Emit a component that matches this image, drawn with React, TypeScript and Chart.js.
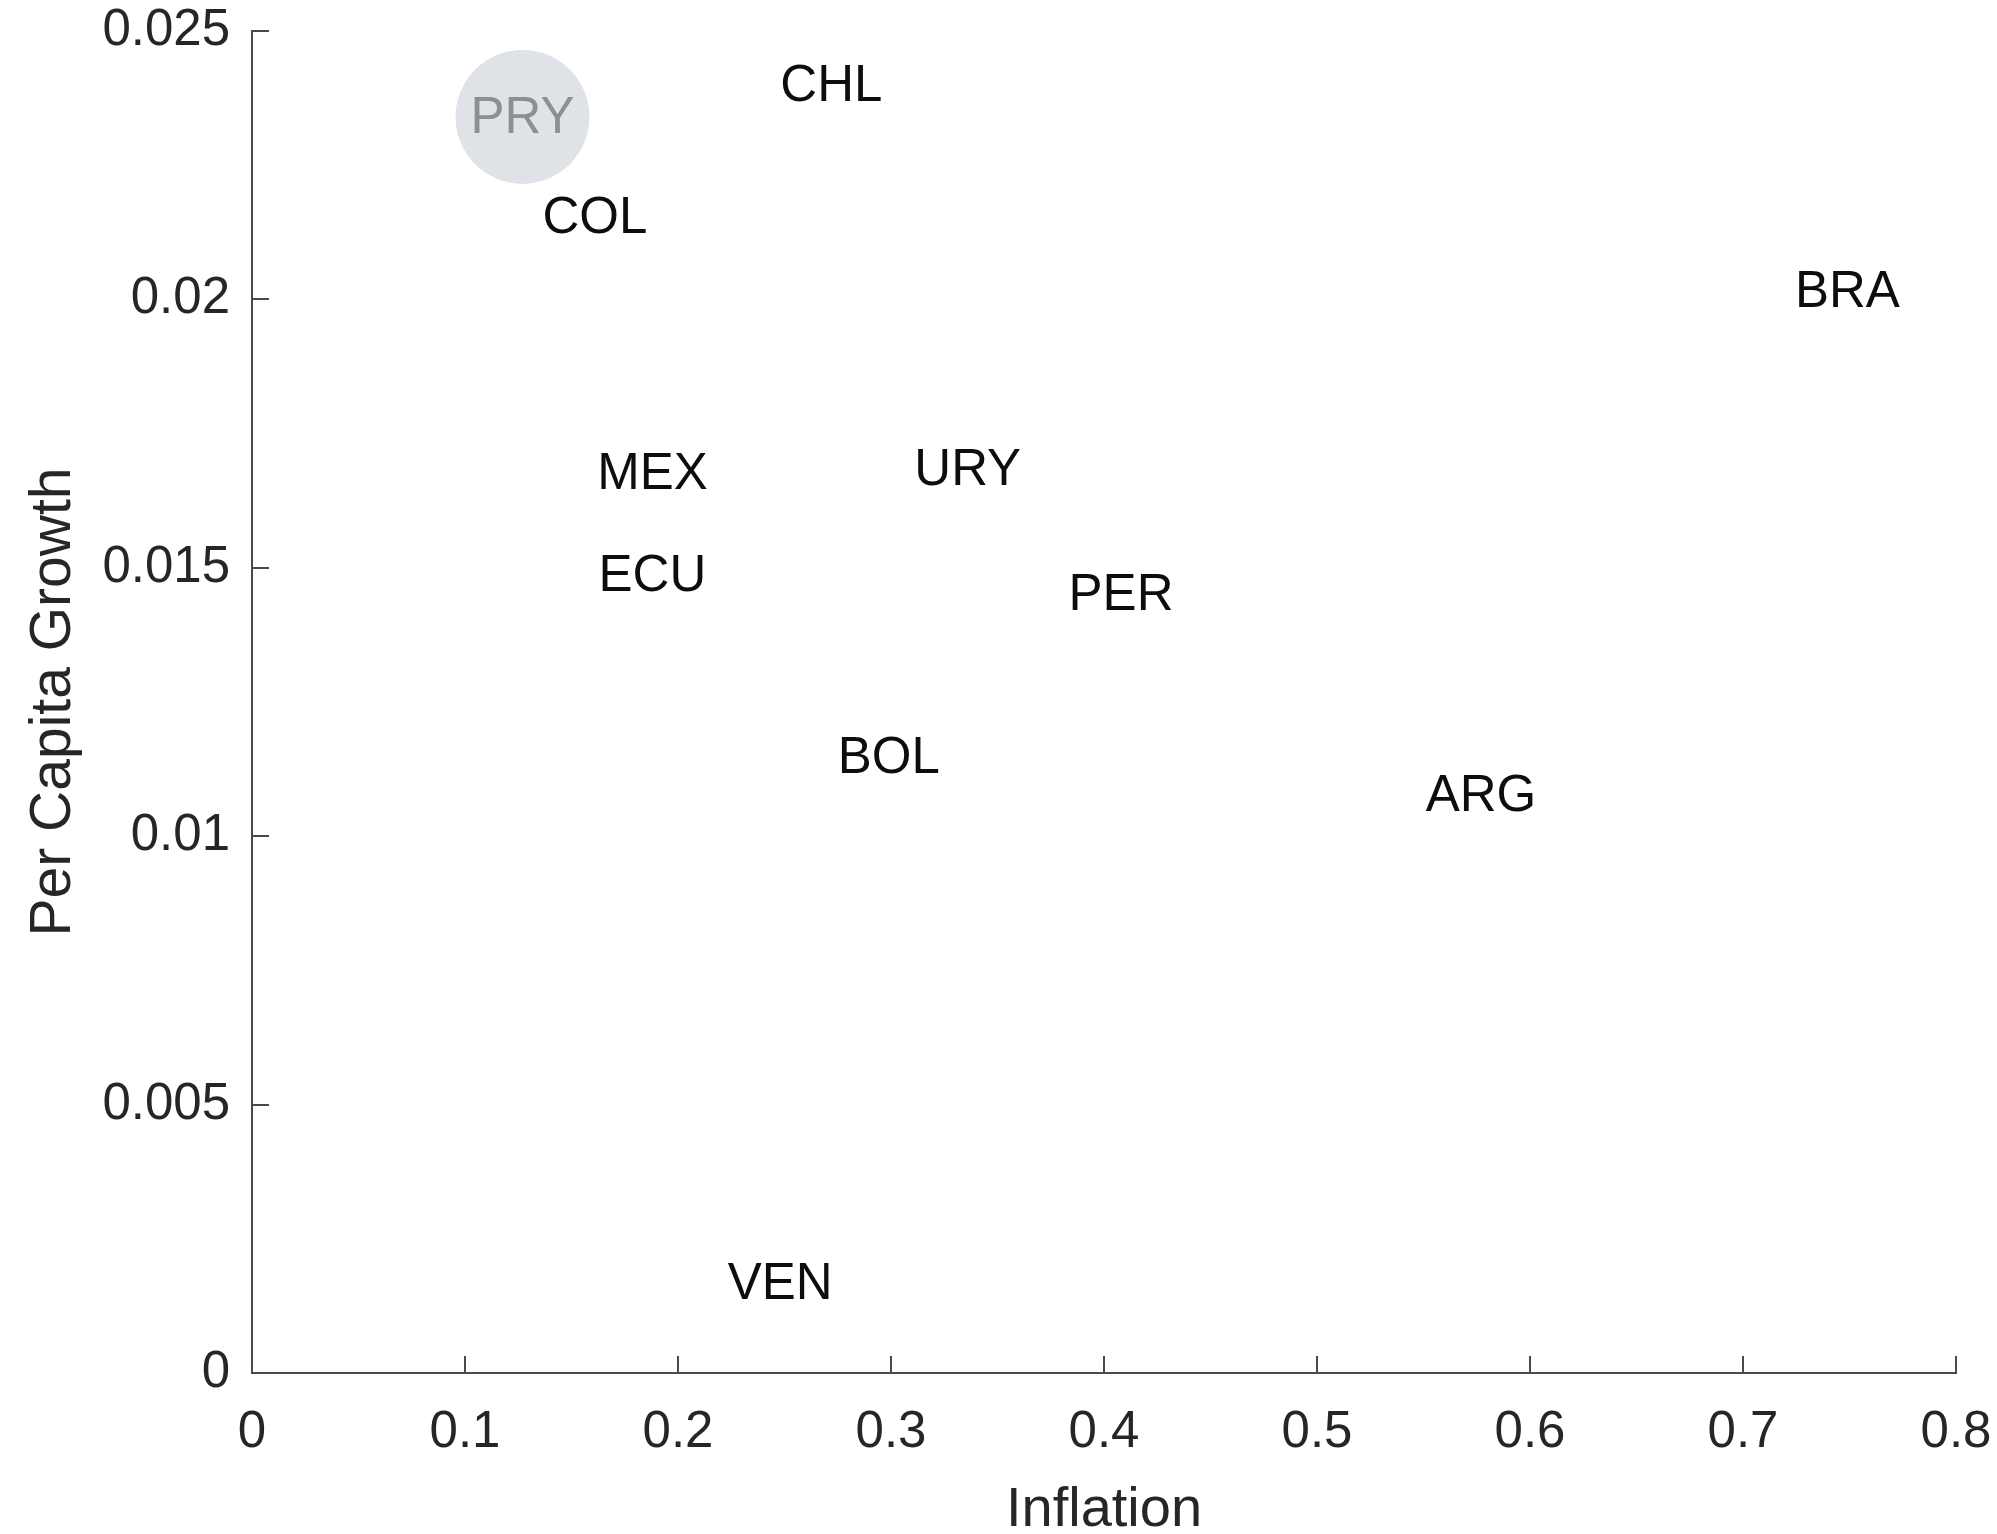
import React, { useEffect, useRef } from "react";
import { Chart, registerables } from "chart.js";

Chart.register(...registerables);

const countries = ["PRY", "CHL", "COL", "BRA", "MEX", "URY", "ECU", "PER", "BOL", "ARG", "VEN"];
const inflation = [0.127, 0.272, 0.161, 0.749, 0.188, 0.336, 0.188, 0.408, 0.299, 0.577, 0.248];
const growth = [0.0234, 0.024, 0.02154, 0.02016, 0.01677, 0.01684, 0.01487, 0.01452, 0.01148, 0.01077, 0.00168];
const highlighted = ["PRY"];

const xTickValues = [0, 0.1, 0.2, 0.3, 0.4, 0.5, 0.6, 0.7, 0.8];
const xTickLabels = ["0", "0.1", "0.2", "0.3", "0.4", "0.5", "0.6", "0.7", "0.8"];
const yTickValues = [0, 0.005, 0.01, 0.015, 0.02, 0.025];
const yTickLabels = ["0", "0.005", "0.01", "0.015", "0.02", "0.025"];

const xTitle = "Inflation";
const yTitle = "Per Capita Growth";

const FONT = '"Liberation Sans", Arial, Helvetica, sans-serif';
const AXIS_COLOR = "#4a4a4a";
const TEXT_COLOR = "#262626";
const TICK_LEN = 17;

const labelPlugin = {
  id: "countryLabels",
  afterDatasetsDraw(chart: any) {
    const ctx = chart.ctx;
    const meta = chart.getDatasetMeta(0);
    meta.data.forEach((pt: any, i: number) => {
      ctx.save();
      ctx.font = `51px ${FONT}`;
      ctx.textAlign = "center";
      ctx.textBaseline = "middle";
      ctx.fillStyle = highlighted.includes(countries[i]) ? "#8c8f93" : "#0d0d0d";
      ctx.fillText(countries[i], pt.x, pt.y + 2);
      ctx.restore();
    });
  },
  afterDraw(chart: any) {
    const ctx = chart.ctx;
    const xs = chart.scales.x;
    const ys = chart.scales.y;
    const area = chart.chartArea;
    ctx.save();
    ctx.strokeStyle = AXIS_COLOR;
    ctx.lineWidth = 2;
    ctx.beginPath();
    xTickValues.forEach((v) => {
      const px = Math.round(xs.getPixelForValue(v));
      ctx.moveTo(px, area.bottom);
      ctx.lineTo(px, area.bottom - TICK_LEN);
    });
    yTickValues.forEach((v) => {
      const py = Math.round(ys.getPixelForValue(v));
      ctx.moveTo(area.left, py);
      ctx.lineTo(area.left + TICK_LEN, py);
    });
    ctx.stroke();
    ctx.restore();
  },
};

export default function App() {
  const ref = useRef<HTMLCanvasElement | null>(null);

  useEffect(() => {
    if (!ref.current) return;
    const chart = new Chart(ref.current, {
      type: "scatter",
      data: {
        datasets: [
          {
            data: countries.map((c, i) => ({ x: inflation[i], y: growth[i] })),
            pointRadius: countries.map((c) => (highlighted.includes(c) ? 67 : 0)),
            pointHoverRadius: countries.map((c) => (highlighted.includes(c) ? 67 : 0)),
            backgroundColor: "#dfe3e8",
            borderWidth: 0,
            clip: false as any,
          },
        ],
      },
      options: {
        animation: false,
        responsive: false,
        devicePixelRatio: 1,
        layout: { autoPadding: false, padding: { left: 0, right: 41, top: 31, bottom: 0 } },
        plugins: {
          legend: { display: false },
          tooltip: { enabled: false },
        },
        scales: {
          x: {
            type: "linear",
            position: "bottom",
            min: 0,
            max: 0.8,
            afterBuildTicks: (s: any) => {
              s.ticks = xTickValues.map((v) => ({ value: v }));
            },
            afterFit: (s: any) => {
              s.height = 161;
              s.paddingLeft = 0;
              s.paddingRight = 0;
              s.paddingTop = 0;
              s.paddingBottom = 0;
            },
            grid: { display: false, drawTicks: false },
            border: { display: true, color: AXIS_COLOR, width: 2 },
            ticks: {
              padding: 29,
              color: TEXT_COLOR,
              font: { family: FONT, size: 51 },
              maxRotation: 0,
              autoSkip: false,
              callback: (v: any, i: number) => xTickLabels[i],
            },
            title: {
              display: true,
              text: xTitle,
              color: TEXT_COLOR,
              font: { family: FONT, size: 56, lineHeight: 0.82 },
              padding: 0,
            },
          },
          y: {
            type: "linear",
            position: "left",
            min: 0,
            max: 0.025,
            afterBuildTicks: (s: any) => {
              s.ticks = yTickValues.map((v) => ({ value: v }));
            },
            afterFit: (s: any) => {
              s.width = 252;
              s.paddingLeft = 0;
              s.paddingRight = 0;
              s.paddingTop = 0;
              s.paddingBottom = 0;
            },
            grid: { display: false, drawTicks: false },
            border: { display: true, color: AXIS_COLOR, width: 2 },
            ticks: {
              padding: 22,
              color: TEXT_COLOR,
              font: { family: FONT, size: 51 },
              autoSkip: false,
              callback: (v: any, i: number) => yTickLabels[i],
            },
            title: {
              display: true,
              text: yTitle,
              color: TEXT_COLOR,
              font: { family: FONT, size: 57, lineHeight: 1 },
              padding: { top: 26, bottom: 0 },
            },
          },
        },
      },
      plugins: [labelPlugin],
    });
    return () => chart.destroy();
  }, []);

  return (
    <div style={{ position: "fixed", left: 0, top: 0, width: 1997, height: 1534, background: "#ffffff" }}>
      <canvas ref={ref} width={1997} height={1534} style={{ width: 1997, height: 1534, display: "block" }} />
    </div>
  );
}
